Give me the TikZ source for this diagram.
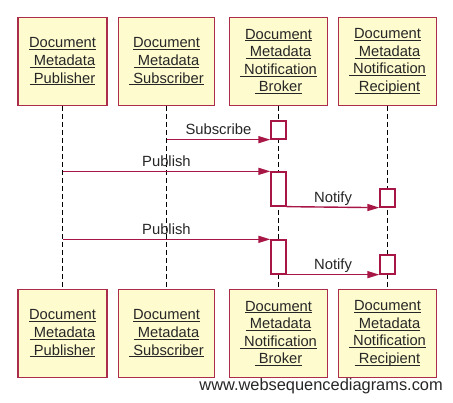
\documentclass[tikz,border=0pt]{standalone}
\usepackage{fontspec}
\setmainfont{Liberation Sans}
\usetikzlibrary{arrows.meta}
\definecolor{boxline}{RGB}{172,44,76}
\definecolor{boxfill}{RGB}{254,251,206}
\definecolor{msgline}{RGB}{168,22,70}
\newcommand\ulline[1]{\setbox0\hbox{#1}\rlap{\rule[-2.3pt]{\wd0}{1pt}}\box0}

\begin{document}
\begin{tikzpicture}
  [x=1pt,y=-1pt,
   actor/.style={draw=boxline,fill=boxfill,line width=1.6pt,minimum height=88pt,
     align=center,inner sep=0pt,text=black!85,font=\fontsize{14.7}{17.6}\selectfont},
   act/.style={draw=msgline,fill=white,line width=1.3pt,minimum width=15pt,inner sep=0pt},
   msg/.style={draw=msgline,line width=1.4pt,-{Triangle[length=12pt,width=7pt]}},
   lbl/.style={anchor=base,yshift=5pt,inner sep=0pt,text=black!85,font=\fontsize{14.8}{17}\selectfont}]
  \useasboundingbox (0,0) rectangle (453,403);
  % participants, top
  \node[actor,minimum width=89pt] (pubT) at (62.5,61.5) {\ulline{Document}\\\ulline{\ Metadata}\\\ulline{\ Publisher}};
  \node[actor,minimum width=96pt] (subT) at (166.5,61.5) {\ulline{Document}\\\ulline{\ Metadata}\\\ulline{\ Subscriber}};
  \node[actor,minimum width=98pt] (brkT) at (278.5,61.5) {\ulline{Document}\\\ulline{\ Metadata}\\\ulline{\ Notification}\\\ulline{\ Broker}};
  \node[actor,minimum width=98pt] (recT) at (387.5,61.5) {\ulline{Document}\\\ulline{\ Metadata}\\\ulline{\ Notification}\\\ulline{\ Recipient}};
  % participants, bottom
  \node[actor,minimum width=89pt] (pubB) at (62.5,333.5) {\ulline{Document}\\\ulline{\ Metadata}\\\ulline{\ Publisher}};
  \node[actor,minimum width=96pt] (subB) at (166.5,333.5) {\ulline{Document}\\\ulline{\ Metadata}\\\ulline{\ Subscriber}};
  \node[actor,minimum width=98pt] (brkB) at (278.5,333.5) {\ulline{Document}\\\ulline{\ Metadata}\\\ulline{\ Notification}\\\ulline{\ Broker}};
  \node[actor,minimum width=98pt] (recB) at (387.5,333.5) {\ulline{Document}\\\ulline{\ Metadata}\\\ulline{\ Notification}\\\ulline{\ Recipient}};
  % lifelines
  \foreach \from/\to in {pubT/pubB,subT/subB,brkT/brkB,recT/recB}
    \draw[line width=1.2pt,dash pattern=on 5pt off 3pt] (\from) -- (\to);
  % activations
  \node[act,minimum height=18pt] (brk1) at (278.5,130) {};
  \node[act,minimum height=34pt] (brk2) at (278.5,189) {};
  \node[act,minimum height=34pt] (brk3) at (278.5,257) {};
  \node[act,minimum height=18pt] (rec1) at (387.5,198) {};
  \node[act,minimum height=19pt] (rec2) at (387.5,264.5) {};
  % messages
  \draw[msg] (brk1.south west -| subT) -- node[lbl] {Subscribe} (brk1.south west);
  \draw[msg] (brk2.north west -| pubT) -- node[lbl] {Publish} (brk2.north west);
  \draw[msg] (brk2.south east) -- node[lbl] {Notify} (rec1.south west);
  \draw[msg] (brk3.north west -| pubT) -- node[lbl] {Publish} (brk3.north west);
  \draw[msg] (brk3.south east) -- node[lbl] {Notify} (rec2.south west);
  \node[anchor=base east,inner sep=0pt,text=black!85,font=\fontsize{16.4}{18}\selectfont] (wsd) at (443,391) {www.websequencediagrams.com};
\end{tikzpicture}
\end{document}
